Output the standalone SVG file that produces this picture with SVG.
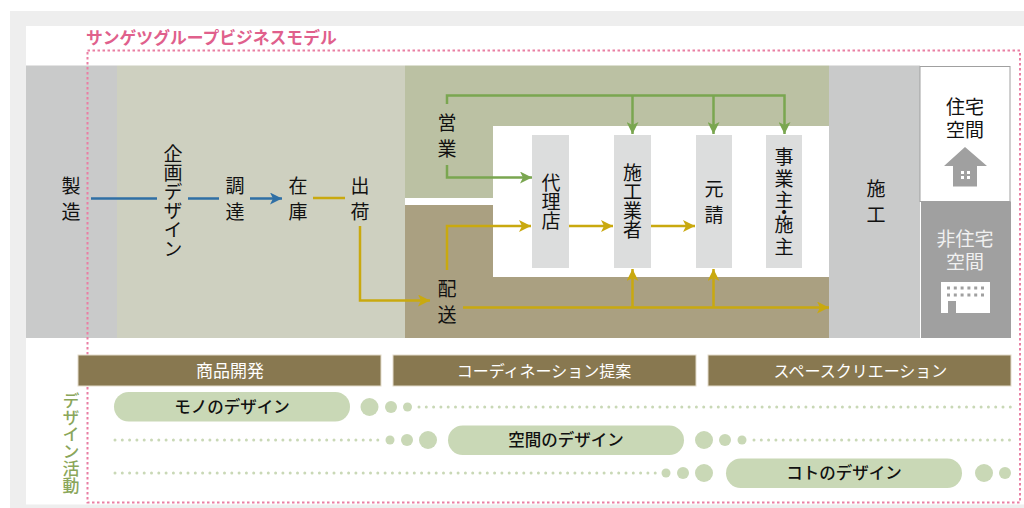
<svg xmlns="http://www.w3.org/2000/svg" width="1024" height="508" viewBox="0 0 1024 508">
<style>
text{font-family:"Noto Sans CJK JP","Noto Sans",sans-serif;fill:#111}
.v{writing-mode:vertical-rl;text-anchor:middle;font-size:19px}
.s7{letter-spacing:7px}
.h{text-anchor:middle;font-size:19px}
.bar{fill:#887850;stroke:#e3dccb;stroke-width:1}
.bt{text-anchor:middle;font-size:16px;fill:#fff}
.pill{fill:#c9d8b6}
.pt{text-anchor:middle;font-size:16.500px;font-weight:500}
.box{fill:#dcdddd}
.ln{fill:none;stroke-width:2.5}
.g{stroke:#7aa650}.y{stroke:#c9a90f}.b{stroke:#2f6fa5}
.dots{fill:none;stroke:#c9d8b6;stroke-width:3;stroke-linecap:round;stroke-dasharray:0 7.3}
</style>
<defs>
<marker id="ag" markerUnits="userSpaceOnUse" markerWidth="13" markerHeight="12" refX="12" refY="6" orient="auto"><path d="M0 0L12 6L0 12L3 6Z" fill="#7aa650"/></marker>
<marker id="ay" markerUnits="userSpaceOnUse" markerWidth="13" markerHeight="12" refX="12" refY="6" orient="auto"><path d="M0 0L12 6L0 12L3 6Z" fill="#c9a90f"/></marker>
<marker id="ab" markerUnits="userSpaceOnUse" markerWidth="13" markerHeight="12" refX="12" refY="6" orient="auto"><path d="M0 0L12 6L0 12L3 6Z" fill="#2f6fa5"/></marker>
</defs>
<rect width="1024" height="508" fill="#fff"/>
<path d="M10 11H1024V26H26V504.500H1024V508H10Z" fill="#eeeeee"/>
<g id="bands">
<rect x="26" y="65.500" width="91" height="272.500" fill="#c9caca"/>
<rect x="117" y="65.500" width="288" height="272.500" fill="#ced0c0"/>
<path d="M405 65.500H829V126H493V198H405Z" fill="#bbc1a3"/>
<path d="M405 205H493V277H829V338H405Z" fill="#aaa081"/>
<rect x="829" y="65.500" width="91" height="272.500" fill="#c9caca"/>
<rect x="920" y="66.500" width="90" height="135" fill="#fff" stroke="#a0a0a0"/>
<rect x="921" y="201.500" width="90" height="136.500" fill="#a0a0a0"/>
</g>
<g id="connectors">
<path class="ln b" d="M91 198.500H157"/>
<path class="ln b" d="M188 198.500H219"/>
<path class="ln b" d="M250 198.500H282" marker-end="url(#ab)"/>
<path class="ln y" d="M313 198H345"/>
<path class="ln y" d="M360 226V300.500H430" marker-end="url(#ay)"/>
<path class="ln g" d="M447 104V95.500H784.500V134" marker-end="url(#ag)"/>
<path class="ln g" d="M632.500 95.500V134" marker-end="url(#ag)"/>
<path class="ln g" d="M713.500 95.500V134" marker-end="url(#ag)"/>
<path class="ln g" d="M447 165V177.500H532" marker-end="url(#ag)"/>
<path class="ln y" d="M447 270V226H531" marker-end="url(#ay)"/>
<path class="ln y" d="M569 226H613" marker-end="url(#ay)"/>
<path class="ln y" d="M651 226H695" marker-end="url(#ay)"/>
<path class="ln y" d="M463 307.500H829" marker-end="url(#ay)"/>
<path class="ln y" d="M632.500 307.500V269" marker-end="url(#ay)"/>
<path class="ln y" d="M713.500 307.500V269" marker-end="url(#ay)"/>
</g>
<g id="n-seizo"><text class="v s7" x="71" y="202">製造</text></g>
<g id="n-kikaku"><text class="v" x="173" y="201">企画デザイン</text></g>
<g id="n-chotatsu"><text class="v s7" x="235" y="202">調達</text></g>
<g id="n-zaiko"><text class="v s7" x="298" y="202">在庫</text></g>
<g id="n-shukka"><text class="v s7" x="360" y="202">出荷</text></g>
<g id="n-eigyo"><text class="v s7" x="447" y="139">営業</text></g>
<g id="n-haiso"><text class="v s7" x="447" y="305">配送</text></g>
<g id="n-dairiten"><rect class="box" x="532" y="135" width="37" height="133"/><text class="v" x="551" y="201.500">代理店</text></g>
<g id="n-sekogyosha"><rect class="box" x="614" y="135" width="37" height="133"/><text class="v" x="632.500" y="201.500">施工業者</text></g>
<g id="n-motouke"><rect class="box" x="696" y="135" width="36" height="133"/><text class="v s7" x="714" y="205">元請</text></g>
<g id="n-jigyonushi"><rect class="box" x="766" y="135" width="36" height="133"/><text class="v" x="784" y="203" style="letter-spacing:2.500px">事業<tspan style="letter-spacing:-6.500px">主・</tspan>施主</text></g>
<g id="n-seko"><text class="v s7" x="876" y="205">施工</text></g>
<g id="n-jutaku">
<text class="h" x="965" y="114">住宅<tspan x="965" dy="23">空間</tspan></text>
<path d="M944 166L965 147L987 166H977V186.500H953V166Z" fill="#a0a0a0"/>
<path d="M961 171h3v3h-3zM967 171h3v3h-3zM961 176h3v3h-3zM967 176h3v3h-3z" fill="#fff"/>
</g>
<g id="n-hijutaku">
<text class="h" x="965" y="246" style="fill:#f0f0f0">非住宅<tspan x="965" dy="23" style="fill:#f0f0f0">空間</tspan></text>
<rect x="941" y="282" width="49" height="31" fill="#fff"/>
<rect x="948" y="301" width="8" height="12" fill="#a0a0a0"/>
<path d="M947 288H985M947 295H985" stroke="#a0a0a0" stroke-width="3" stroke-dasharray="3 3.800" fill="none"/>
</g>
<g id="title"><text x="86" y="44" style="fill:#e0608c;font-size:16.800px;font-weight:700">サンゲツグループビジネスモデル</text></g>
<rect x="87.500" y="50.500" width="932.500" height="452" fill="none" stroke="#ea7fa3" stroke-width="2" stroke-dasharray="2.500 2.500"/>
<g id="bar1"><rect class="bar" x="78" y="355" width="303" height="31"/><text class="bt" x="230" y="377" style="font-size:17px">商品開発</text></g>
<g id="bar2"><rect class="bar" x="393" y="355" width="303" height="31"/><text class="bt" x="544" y="376.500">コーディネーション提案</text></g>
<g id="bar3"><rect class="bar" x="708" y="355" width="303" height="31"/><text class="bt" x="860.500" y="376.500">スペースクリエーション</text></g>
<g id="activity"><text class="v" x="71" y="443" style="fill:#8aa65a;font-size:17px;font-weight:500">デザイン活動</text></g>
<g id="row1">
<rect class="pill" x="114" y="392" width="236" height="29.500" rx="14.750"/><text class="pt" x="232" y="412.500">モノのデザイン</text>
<circle class="pill" cx="369.500" cy="407" r="9"/><circle class="pill" cx="391" cy="407" r="6"/><circle class="pill" cx="407.500" cy="407" r="4.500"/>
<path class="dots" d="M419 407H1011"/>
</g>
<g id="row2">
<path class="dots" d="M115 440H380"/>
<circle class="pill" cx="390" cy="440" r="4.500"/><circle class="pill" cx="407" cy="440" r="6"/><circle class="pill" cx="428" cy="440" r="9"/>
<rect class="pill" x="448" y="425.500" width="236" height="29.500" rx="14.750"/><text class="pt" x="566" y="446">空間のデザイン</text>
<circle class="pill" cx="704" cy="440" r="9"/><circle class="pill" cx="725" cy="440" r="6"/><circle class="pill" cx="742" cy="440" r="4.500"/>
<path class="dots" d="M754 440H1011"/>
</g>
<g id="row3">
<path class="dots" d="M115 473H656"/>
<circle class="pill" cx="666" cy="473" r="4.500"/><circle class="pill" cx="683" cy="473" r="6"/><circle class="pill" cx="704" cy="473" r="9"/>
<rect class="pill" x="726" y="458.500" width="236" height="29.500" rx="14.750"/><text class="pt" x="844" y="479">コトのデザイン</text>
<circle class="pill" cx="984" cy="473" r="9"/><circle class="pill" cx="1005" cy="473" r="6"/>
</g>
</svg>
